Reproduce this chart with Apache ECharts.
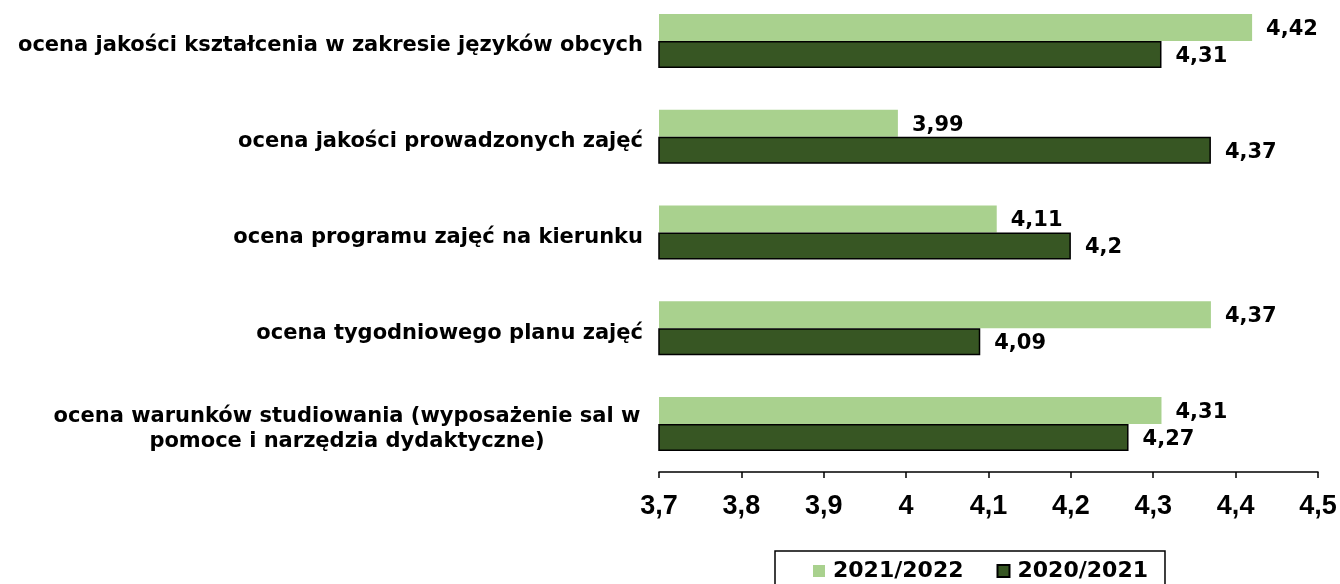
<!DOCTYPE html>
<html><head><meta charset="utf-8">
<script src="https://cdn.jsdelivr.net/npm/echarts@6/dist/echarts.min.js"></script>
<style>html,body{margin:0;padding:0;background:#fff}#c{width:1340px;height:584px}</style>
</head><body><div id="c"></div>
<script>
const categories = [
  'ocena jakości kształcenia w zakresie języków obcych',
  'ocena jakości prowadzonych zajęć',
  'ocena programu zajęć na kierunku',
  'ocena tygodniowego planu zajęć',
  'ocena warunków studiowania (wyposażenie sal w\npomoce i narzędzia dydaktyczne)'
];
const seriesNames = ['2021/2022', '2020/2021'];
const values2122 = [4.42, 3.99, 4.11, 4.37, 4.31];
const values2021 = [4.31, 4.37, 4.2, 4.09, 4.27];
const axisMin = 3.7, axisMax = 4.5, axisStep = 0.1;

const fmt = v => String(Number(Number(v).toFixed(2))).replace('.', ',');
const chart = echarts.init(document.getElementById('c'), null, {renderer: 'canvas'});
const labelFont = 'Verdana, "DejaVu Sans", sans-serif';
const valueLabel = {
  show: true, position: 'right', distance: 14, offset: [0, 2],
  formatter: p => fmt(p.value),
  color: '#000', fontFamily: labelFont, fontWeight: 'bold', fontSize: 21
};
chart.setOption({
  animation: false,
  backgroundColor: '#fff',
  grid: {left: 659, right: 22, top: -7, bottom: 112, containLabel: false, outerBoundsMode: 'none'},
  legend: {
    data: seriesNames,
    left: 775, top: 551,
    padding: [9, 17, 14, 38],
    borderColor: '#000', borderWidth: 1.5, borderRadius: 0,
    itemWidth: 12, itemHeight: 12, itemGap: 33,
    icon: 'rect',
    textStyle: {color: '#000', fontFamily: labelFont, fontWeight: 'bold', fontSize: 22, padding: [0, 0, 0, 3]}
  },
  xAxis: {
    type: 'value', min: axisMin, max: axisMax, interval: axisStep,
    splitLine: {show: false},
    axisLine: {show: true, lineStyle: {color: '#000', width: 1.5}},
    axisTick: {show: true, length: 6, lineStyle: {color: '#000', width: 1.5}},
    axisLabel: {
      formatter: v => fmt(v), margin: 21,
      color: '#000', fontFamily: '"Liberation Sans", Arial, sans-serif',
      fontWeight: 'bold', fontSize: 27
    }
  },
  yAxis: {
    type: 'category', data: categories, inverse: true,
    axisLine: {show: false}, axisTick: {show: false},
    axisLabel: {
      margin: 16,
      padding: [10, 0, 0, 0],
      formatter: v => v.includes('\n')
        ? v.split('\n').map(l => '{w|' + l + '}').join('\n')
        : '{n|' + v + '}',
      rich: {
        n: {color: '#000', fontFamily: labelFont, fontWeight: 'bold', fontSize: 21},
        w: {color: '#000', fontFamily: labelFont, fontWeight: 'bold', fontSize: 21,
            width: 592, align: 'center', lineHeight: 25}
      }
    }
  },
  series: [
    {name: seriesNames[0], type: 'bar', data: values2122, barWidth: 27, barGap: '0%',
     itemStyle: {color: '#A9D18E'}, label: valueLabel},
    {name: seriesNames[1], type: 'bar', data: values2021, barWidth: 27, barGap: '0%',
     itemStyle: {color: '#375623', borderColor: '#000', borderWidth: 1.5}, label: valueLabel}
  ]
});
</script></body></html>
